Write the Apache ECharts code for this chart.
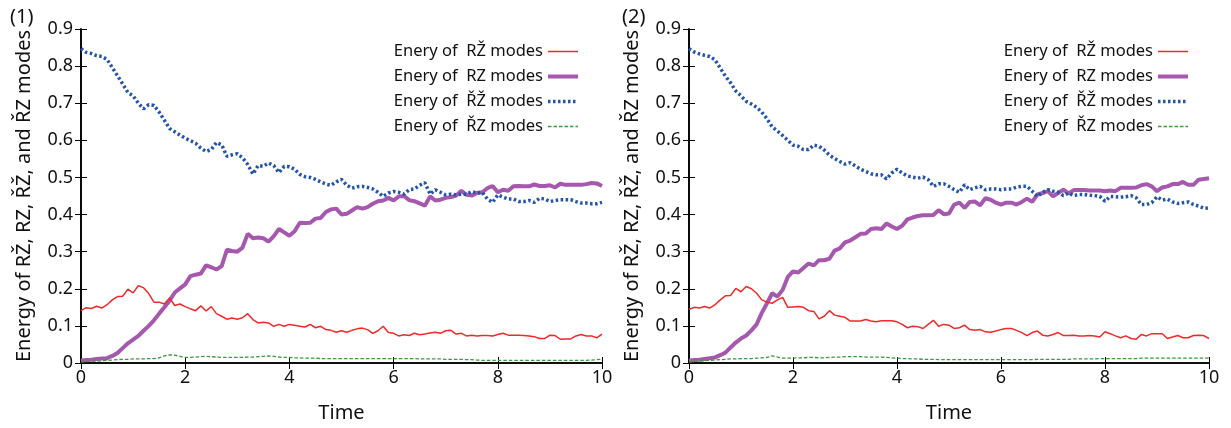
<!DOCTYPE html>
<html>
<head>
<meta charset="utf-8">
<script src="https://cdn.jsdelivr.net/npm/echarts@6/dist/echarts.min.js"></script>
<style>
html,body{margin:0;padding:0;background:#fff;}
#chart{width:1231px;height:428px;}
</style>
</head>
<body>
<div id="chart"></div>
<script>
// ---- data ----
const times = [0,0.1,0.2,0.3,0.4,0.5,0.6,0.7,0.8,0.9,1,1.1,1.2,1.3,1.4,1.5,1.6,1.7,1.8,1.9,2,2.1,2.2,2.3,2.4,2.5,2.6,2.7,2.8,2.9,3,3.1,3.2,3.3,3.4,3.5,3.6,3.7,3.8,3.9,4,4.1,4.2,4.3,4.4,4.5,4.6,4.7,4.8,4.9,5,5.1,5.2,5.3,5.4,5.5,5.6,5.7,5.8,5.9,6,6.1,6.2,6.3,6.4,6.5,6.6,6.7,6.8,6.9,7,7.1,7.2,7.3,7.4,7.5,7.6,7.7,7.8,7.9,8,8.1,8.2,8.3,8.4,8.5,8.6,8.7,8.8,8.9,9,9.1,9.2,9.3,9.4,9.5,9.6,9.7,9.8,9.9,10];

const seriesNames = ['Enery of  R\u017D modes','Enery of  RZ modes','Enery of  \u0158\u017D modes','Enery of  \u0158Z modes'];
const panelLabels = ['(1)','(2)'];
const xTitle = 'Time';
const yTitle = 'Energy of R\u017D, RZ, \u0158\u017D, and \u0158Z modes';

// Panel (1)
const p1Red = [0.141,0.149,0.147,0.153,0.148,0.157,0.170,0.179,0.180,0.199,0.189,0.208,0.203,0.187,0.164,0.164,0.159,0.175,0.155,0.159,0.152,0.146,0.141,0.154,0.140,0.152,0.133,0.126,0.118,0.121,0.118,0.122,0.133,0.117,0.108,0.110,0.108,0.099,0.104,0.099,0.104,0.102,0.099,0.097,0.104,0.095,0.099,0.090,0.088,0.083,0.087,0.083,0.088,0.092,0.094,0.090,0.080,0.087,0.099,0.082,0.080,0.073,0.076,0.074,0.080,0.076,0.078,0.081,0.083,0.080,0.087,0.088,0.078,0.080,0.073,0.075,0.073,0.074,0.074,0.073,0.077,0.080,0.075,0.075,0.075,0.074,0.073,0.071,0.066,0.066,0.075,0.074,0.064,0.065,0.065,0.073,0.077,0.073,0.073,0.068,0.078];
const p1Purple = [0.007,0.008,0.009,0.011,0.012,0.013,0.019,0.027,0.040,0.053,0.063,0.073,0.087,0.100,0.115,0.133,0.150,0.168,0.190,0.201,0.212,0.234,0.238,0.241,0.263,0.258,0.252,0.261,0.305,0.302,0.300,0.311,0.348,0.336,0.338,0.336,0.327,0.342,0.361,0.352,0.343,0.355,0.378,0.377,0.378,0.389,0.391,0.407,0.414,0.416,0.400,0.402,0.411,0.420,0.416,0.420,0.429,0.436,0.438,0.445,0.438,0.449,0.450,0.439,0.436,0.430,0.424,0.449,0.438,0.440,0.445,0.447,0.451,0.464,0.453,0.451,0.458,0.460,0.471,0.477,0.460,0.467,0.464,0.476,0.477,0.476,0.476,0.481,0.477,0.477,0.479,0.473,0.483,0.480,0.480,0.480,0.480,0.482,0.485,0.484,0.477];
const p1Blue = [0.847,0.837,0.834,0.828,0.826,0.818,0.796,0.774,0.752,0.729,0.720,0.700,0.685,0.696,0.694,0.676,0.654,0.632,0.623,0.614,0.606,0.599,0.592,0.579,0.570,0.575,0.594,0.588,0.557,0.561,0.564,0.553,0.535,0.509,0.532,0.530,0.539,0.532,0.513,0.530,0.529,0.522,0.508,0.502,0.500,0.495,0.488,0.482,0.479,0.488,0.495,0.479,0.471,0.475,0.476,0.473,0.469,0.460,0.449,0.458,0.462,0.460,0.455,0.467,0.469,0.479,0.486,0.455,0.467,0.460,0.453,0.455,0.453,0.455,0.455,0.462,0.458,0.460,0.442,0.433,0.453,0.447,0.442,0.442,0.435,0.435,0.438,0.433,0.444,0.442,0.435,0.438,0.440,0.440,0.440,0.435,0.431,0.431,0.429,0.429,0.433];
const p1Green = [0.004,0.004,0.005,0.005,0.006,0.007,0.008,0.009,0.010,0.010,0.011,0.011,0.011,0.012,0.012,0.014,0.019,0.022,0.021,0.018,0.015,0.015,0.016,0.017,0.018,0.017,0.016,0.015,0.015,0.015,0.015,0.015,0.016,0.016,0.017,0.018,0.019,0.018,0.016,0.015,0.015,0.014,0.014,0.013,0.013,0.013,0.012,0.012,0.012,0.012,0.012,0.012,0.012,0.012,0.012,0.012,0.012,0.012,0.012,0.012,0.012,0.012,0.012,0.012,0.012,0.011,0.011,0.011,0.011,0.011,0.010,0.010,0.010,0.010,0.009,0.009,0.008,0.007,0.007,0.007,0.007,0.007,0.007,0.007,0.007,0.007,0.007,0.007,0.007,0.007,0.007,0.007,0.007,0.007,0.007,0.007,0.007,0.007,0.008,0.009,0.010];

// Panel (2)
const p2Red = [0.144,0.150,0.148,0.152,0.148,0.157,0.170,0.181,0.182,0.201,0.192,0.206,0.200,0.188,0.170,0.164,0.161,0.170,0.177,0.150,0.151,0.152,0.150,0.141,0.139,0.119,0.126,0.141,0.129,0.126,0.123,0.113,0.113,0.113,0.117,0.113,0.111,0.114,0.114,0.114,0.111,0.104,0.095,0.099,0.098,0.093,0.104,0.115,0.099,0.104,0.102,0.093,0.095,0.102,0.090,0.088,0.090,0.084,0.083,0.086,0.090,0.093,0.093,0.088,0.082,0.074,0.082,0.086,0.075,0.073,0.077,0.082,0.074,0.074,0.075,0.073,0.073,0.074,0.073,0.070,0.084,0.079,0.073,0.068,0.073,0.066,0.064,0.077,0.073,0.079,0.079,0.079,0.066,0.070,0.074,0.068,0.068,0.074,0.075,0.074,0.066];
const p2Purple = [0.006,0.008,0.009,0.011,0.013,0.015,0.021,0.028,0.042,0.055,0.066,0.074,0.088,0.104,0.135,0.161,0.188,0.179,0.197,0.232,0.247,0.244,0.256,0.268,0.263,0.277,0.277,0.281,0.303,0.309,0.325,0.330,0.339,0.348,0.349,0.361,0.363,0.361,0.376,0.368,0.361,0.370,0.387,0.392,0.396,0.398,0.398,0.399,0.412,0.401,0.403,0.427,0.432,0.418,0.434,0.435,0.425,0.444,0.440,0.432,0.427,0.432,0.432,0.427,0.434,0.443,0.434,0.454,0.458,0.463,0.449,0.458,0.467,0.457,0.466,0.466,0.466,0.465,0.465,0.465,0.463,0.465,0.463,0.472,0.472,0.472,0.473,0.479,0.482,0.476,0.463,0.473,0.476,0.482,0.482,0.488,0.480,0.480,0.494,0.496,0.498];
const p2Blue = [0.847,0.838,0.833,0.829,0.826,0.817,0.795,0.773,0.755,0.733,0.720,0.705,0.698,0.689,0.676,0.658,0.636,0.625,0.613,0.600,0.587,0.584,0.575,0.575,0.587,0.584,0.574,0.560,0.551,0.543,0.536,0.540,0.531,0.522,0.516,0.510,0.507,0.507,0.496,0.512,0.522,0.512,0.504,0.501,0.498,0.501,0.494,0.476,0.483,0.483,0.476,0.467,0.460,0.480,0.467,0.472,0.476,0.467,0.469,0.469,0.467,0.469,0.469,0.474,0.476,0.476,0.463,0.449,0.460,0.467,0.463,0.460,0.451,0.458,0.451,0.454,0.454,0.452,0.451,0.449,0.436,0.449,0.448,0.447,0.448,0.451,0.445,0.427,0.427,0.432,0.448,0.439,0.442,0.434,0.430,0.432,0.434,0.427,0.423,0.417,0.418];
const p2Green = [0.005,0.005,0.006,0.006,0.007,0.008,0.009,0.010,0.011,0.011,0.012,0.012,0.012,0.013,0.014,0.015,0.019,0.016,0.013,0.013,0.013,0.014,0.014,0.015,0.015,0.014,0.014,0.015,0.016,0.016,0.017,0.017,0.017,0.017,0.016,0.016,0.016,0.016,0.015,0.014,0.013,0.012,0.012,0.011,0.011,0.010,0.010,0.010,0.009,0.009,0.009,0.009,0.009,0.009,0.009,0.009,0.009,0.009,0.009,0.009,0.009,0.009,0.009,0.009,0.009,0.009,0.009,0.010,0.010,0.010,0.010,0.010,0.010,0.010,0.011,0.011,0.011,0.011,0.011,0.012,0.012,0.012,0.012,0.012,0.012,0.012,0.012,0.013,0.013,0.013,0.013,0.013,0.013,0.013,0.013,0.013,0.013,0.013,0.013,0.013,0.013];

const xTicks = {min:0, max:10, interval:2};
const yTicks = {min:0, max:0.9, interval:0.1};

// ---- chart ----
const FONT = '"Noto Sans", "Open Sans", sans-serif';
const colors = ['#ee2a2a','#a658ae','#2255aa','#3a9a3a'];
const styles = [
  {width:1.5, type:'solid'},
  {width:4, type:'solid'},
  {width:3.5, type:[2.5,2.5]},
  {width:1.3, type:[3.5,2]}
];

const zip = (arr) => times.map((t,i)=>[t, arr[i]]);
const panels = [[p1Red,p1Purple,p1Blue,p1Green],[p2Red,p2Purple,p2Blue,p2Green]];

const grids = [
  {left:81, top:29, width:521, height:339},
  {left:689, top:29, width:520, height:339}
];

const axisLine = {show:true, lineStyle:{color:'#000', width:1.6}};
const xAxes = [], yAxes = [], series = [], legends = [], titles = [];

grids.forEach((g, gi) => {
  xAxes.push({
    type:'value', gridIndex:gi, position:'bottom', ...xTicks,
    name: xTitle, nameLocation:'middle', nameGap:40,
    nameTextStyle:{fontSize:20, color:'#111', fontFamily:FONT},
    axisLine, axisTick:{show:true, inside:true, length:6, lineStyle:{color:'#000', width:1}},
    axisLabel:{fontSize:18, color:'#111', margin:6, fontFamily:FONT},
    splitLine:{show:false}
  });
  xAxes.push({
    type:'value', gridIndex:gi, position:'top', ...xTicks,
    axisLine, axisTick:{show:true, inside:true, length:6, lineStyle:{color:'#000', width:1}},
    axisLabel:{show:false}, splitLine:{show:false}
  });
  yAxes.push({
    type:'value', gridIndex:gi, position:'left', ...yTicks,
    name: yTitle, nameLocation:'middle', nameGap:47, nameRotate:90,
    nameTextStyle:{fontSize:20, color:'#111', fontFamily:FONT},
    axisLine, axisTick:{show:true, inside:true, length:6, lineStyle:{color:'#000', width:1}},
    axisLabel:{fontSize:18, color:'#111', margin:8, fontFamily:FONT},
    splitLine:{show:false}
  });
  yAxes.push({
    type:'value', gridIndex:gi, position:'right', ...yTicks,
    axisLine, axisTick:{show:true, inside:true, length:6, lineStyle:{color:'#000', width:1}},
    axisLabel:{show:false}, splitLine:{show:false}
  });
  panels[gi].forEach((arr, si) => {
    series.push({
      name: seriesNames[si], type:'line', xAxisIndex:gi*2, yAxisIndex:gi*2,
      data: zip(arr), showSymbol:false, symbol:'none', animation:false,
      lineStyle:{color:colors[si], width:styles[si].width, type:styles[si].type, cap:'butt'},
      itemStyle:{color:colors[si]},
      z: si===1 ? 3 : 4
    });
  });
  legends.push({
    orient:'vertical', align:'right',
    right: gi===0 ? 646 : 36, top: 38,
    itemWidth:30, itemHeight:14, itemGap:8,
    itemStyle:{opacity:0},
    lineStyle:{width:'inherit'},
    textStyle:{fontSize:16.5, color:'#111', fontFamily:FONT},
    data: seriesNames.slice(),
    selectedMode:false
  });
  titles.push({text: panelLabels[gi], left: gi===0 ? 5 : 617, top: 2,
    textStyle:{fontSize:20, fontWeight:'normal', color:'#111', fontFamily:FONT}});
});

const chart = echarts.init(document.getElementById('chart'), null, {renderer:'canvas'});
chart.setOption({
  animation:false,
  backgroundColor:'#fff',
  title: titles,
  grid: grids,
  xAxis: xAxes,
  yAxis: yAxes,
  legend: legends,
  series
});
</script>
</body>
</html>
